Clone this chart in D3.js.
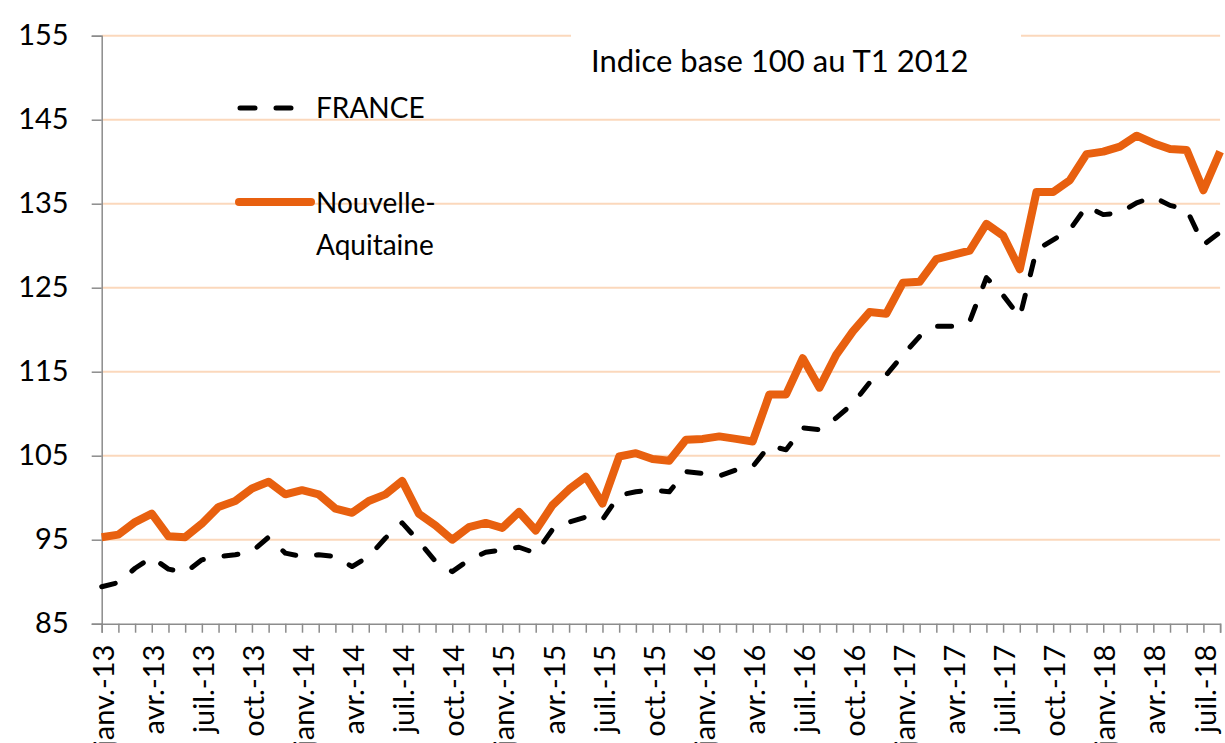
<!DOCTYPE html>
<html>
<head>
<meta charset="utf-8">
<script src="https://d3js.org/d3.v7.min.js"></script>
<style>
    body { margin: 0; background: #fff; }
    text { font-family: Lato, "Open Sans", sans-serif; fill: #000; }
</style>
</head>
<body>
<script>
// months on the x axis (one point per month)
var months = [
    "janv.-13", "févr.-13", "mars-13", "avr.-13", "mai-13", "juin-13", "juil.-13", "août-13", "sept.-13", "oct.-13", "nov.-13", "déc.-13",
    "janv.-14", "févr.-14", "mars-14", "avr.-14", "mai-14", "juin-14", "juil.-14", "août-14", "sept.-14", "oct.-14", "nov.-14", "déc.-14",
    "janv.-15", "févr.-15", "mars-15", "avr.-15", "mai-15", "juin-15", "juil.-15", "août-15", "sept.-15", "oct.-15", "nov.-15", "déc.-15",
    "janv.-16", "févr.-16", "mars-16", "avr.-16", "mai-16", "juin-16", "juil.-16", "août-16", "sept.-16", "oct.-16", "nov.-16", "déc.-16",
    "janv.-17", "févr.-17", "mars-17", "avr.-17", "mai-17", "juin-17", "juil.-17", "août-17", "sept.-17", "oct.-17", "nov.-17", "déc.-17",
    "janv.-18", "févr.-18", "mars-18", "avr.-18", "mai-18", "juin-18", "juil.-18", "août-18"
];

// labels shown under the axis (every 3 months)
var tickLabels = [
    "janv.-13", "avr.-13", "juil.-13", "oct.-13",
    "janv.-14", "avr.-14", "juil.-14", "oct.-14",
    "janv.-15", "avr.-15", "juil.-15", "oct.-15",
    "janv.-16", "avr.-16", "juil.-16", "oct.-16",
    "janv.-17", "avr.-17", "juil.-17", "oct.-17",
    "janv.-18", "avr.-18", "juil.-18"
];

var yTicks = [85, 95, 105, 115, 125, 135, 145, 155];

var france = [
    89.4, 89.9, 91.6, 92.9, 91.5, 91.1, 92.6, 93.0, 93.2, 93.6,
    95.3, 93.4, 93.0, 93.2, 93.0, 91.8, 93.0, 95.2, 97.0, 94.8,
    92.4, 91.2, 92.6, 93.5, 93.8, 94.1, 93.4, 96.2, 97.1, 97.7,
    97.4, 100.3, 100.7, 100.9, 100.7, 103.1, 102.9, 102.6, 103.3, 103.7,
    106.2, 105.7, 108.3, 108.1, 109.5, 111.2, 113.7, 114.6, 117.0, 119.2,
    120.4, 120.4, 121.0, 126.2, 124.1, 121.5, 129.5, 130.7, 131.9, 134.7,
    133.7, 133.9, 135.1, 135.8, 134.8, 134.3, 130.1, 131.6
];

var nouvelleAquitaine = [
    95.3, 95.6, 97.1, 98.1, 95.4, 95.3, 96.9, 98.9, 99.6, 101.1,
    101.9, 100.4, 100.9, 100.4, 98.7, 98.2, 99.6, 100.4, 102.0, 98.1,
    96.7, 95.0, 96.5, 97.0, 96.4, 98.3, 96.1, 99.1, 101.0, 102.5,
    99.3, 104.9, 105.3, 104.6, 104.4, 106.9, 107.0, 107.3, 107.0, 106.7,
    112.3, 112.3, 116.6, 113.1, 117.0, 119.8, 122.1, 121.9, 125.6, 125.7,
    128.4, 128.9, 129.4, 132.6, 131.2, 127.2, 136.4, 136.4, 137.8, 140.9,
    141.2, 141.8, 143.1, 142.2, 141.5, 141.4, 136.6, 141.2
];

var w = 1225, h = 743;
// plot area edges (named so they do not clash with window.top)
var plotLeft = 101.7, plotRight = 1220.1, plotTop = 35.7, plotBottom = 623.7;
var orange = "#E8600F";
var grid = "#FBD8BC";
var axisGrey = "#8C8C8C";

var svg = d3.select("body").append("svg")
    .attr("width", w)
    .attr("height", h);

var x = d3.scalePoint()
    .domain(months)
    .range([plotLeft, plotRight]);

var y = d3.scaleLinear()
    .domain([85, 155])
    .range([plotBottom, plotTop]);

// horizontal gridlines
svg.append("g")
    .selectAll("line")
    .data(yTicks.slice(1))
    .enter()
    .append("line")
    .attr("x1", plotLeft)
    .attr("x2", plotRight)
    .attr("y1", function(d) { return y(d); })
    .attr("y2", function(d) { return y(d); })
    .style("stroke", grid)
    .style("stroke-width", 2);

// y axis
var yAxis = svg.append("g")
    .attr("transform", "translate(" + plotLeft + ",0)")
    .call(d3.axisLeft(y).tickValues(yTicks).tickSize(10).tickPadding(23).tickFormat(d3.format("d")));
yAxis.select(".domain").style("stroke", axisGrey).style("stroke-width", 1.5);
yAxis.selectAll(".tick line").style("stroke", axisGrey).style("stroke-width", 1.5);
yAxis.selectAll("text")
    .style("font-size", "29px")
    .style("font-family", "Lato, sans-serif")
    .attr("fill", "#000");

// x axis: a tick every month, labels every 3 months
var xAxis = svg.append("g")
    .attr("transform", "translate(0," + plotBottom + ")")
    .call(d3.axisBottom(x).tickSize(9).tickFormat(""));
xAxis.select(".domain").style("stroke", axisGrey).style("stroke-width", 1.5);
xAxis.selectAll(".tick line").style("stroke", axisGrey).style("stroke-width", 1.5);

svg.append("g")
    .selectAll("text")
    .data(tickLabels)
    .enter()
    .append("text")
    .attr("transform", function(d) {
        return "translate(" + (x(d) + 2) + "," + (plotBottom + 21) + ") rotate(-90)";
    })
    .attr("text-anchor", "end")
    .attr("dy", "0.35em")
    .style("font-size", "29px")
    .text(function(d) { return d; });

// lines
var line = d3.line()
    .x(function(d, i) { return x(months[i]); })
    .y(function(d) { return y(d); });

svg.append("path")
    .datum(france)
    .attr("d", line)
    .style("fill", "none")
    .style("stroke", "#000")
    .style("stroke-width", 5)
    .style("stroke-linecap", "round")
    .style("stroke-linejoin", "round")
    .style("stroke-dasharray", "14,21");

svg.append("path")
    .datum(nouvelleAquitaine)
    .attr("d", line)
    .style("fill", "none")
    .style("stroke", orange)
    .style("stroke-width", 8)
    .style("stroke-linejoin", "round");

// title box (hides the top gridline behind it)
svg.append("rect")
    .attr("x", 571)
    .attr("y", 28)
    .attr("width", 450)
    .attr("height", 60)
    .style("fill", "#fff");

svg.append("text")
    .attr("x", 591)
    .attr("y", 72)
    .style("font-size", "31px")
    .text("Indice base 100 au T1 2012");

// legend
svg.append("line")
    .attr("x1", 240).attr("x2", 294)
    .attr("y1", 108).attr("y2", 108)
    .style("stroke", "#000")
    .style("stroke-width", 5)
    .style("stroke-linecap", "round")
    .style("stroke-dasharray", "15,21");

svg.append("text")
    .attr("x", 316)
    .attr("y", 118)
    .style("font-size", "28px")
    .text("FRANCE");

svg.append("line")
    .attr("x1", 239).attr("x2", 311)
    .attr("y1", 202).attr("y2", 202)
    .style("stroke", orange)
    .style("stroke-width", 8)
    .style("stroke-linecap", "round");

var naLabel = svg.append("text")
    .attr("x", 316)
    .attr("y", 213)
    .style("font-size", "28px");
naLabel.append("tspan").attr("x", 316).text("Nouvelle-");
naLabel.append("tspan").attr("x", 316).attr("dy", 42).text("Aquitaine");
</script>
</body>
</html>
